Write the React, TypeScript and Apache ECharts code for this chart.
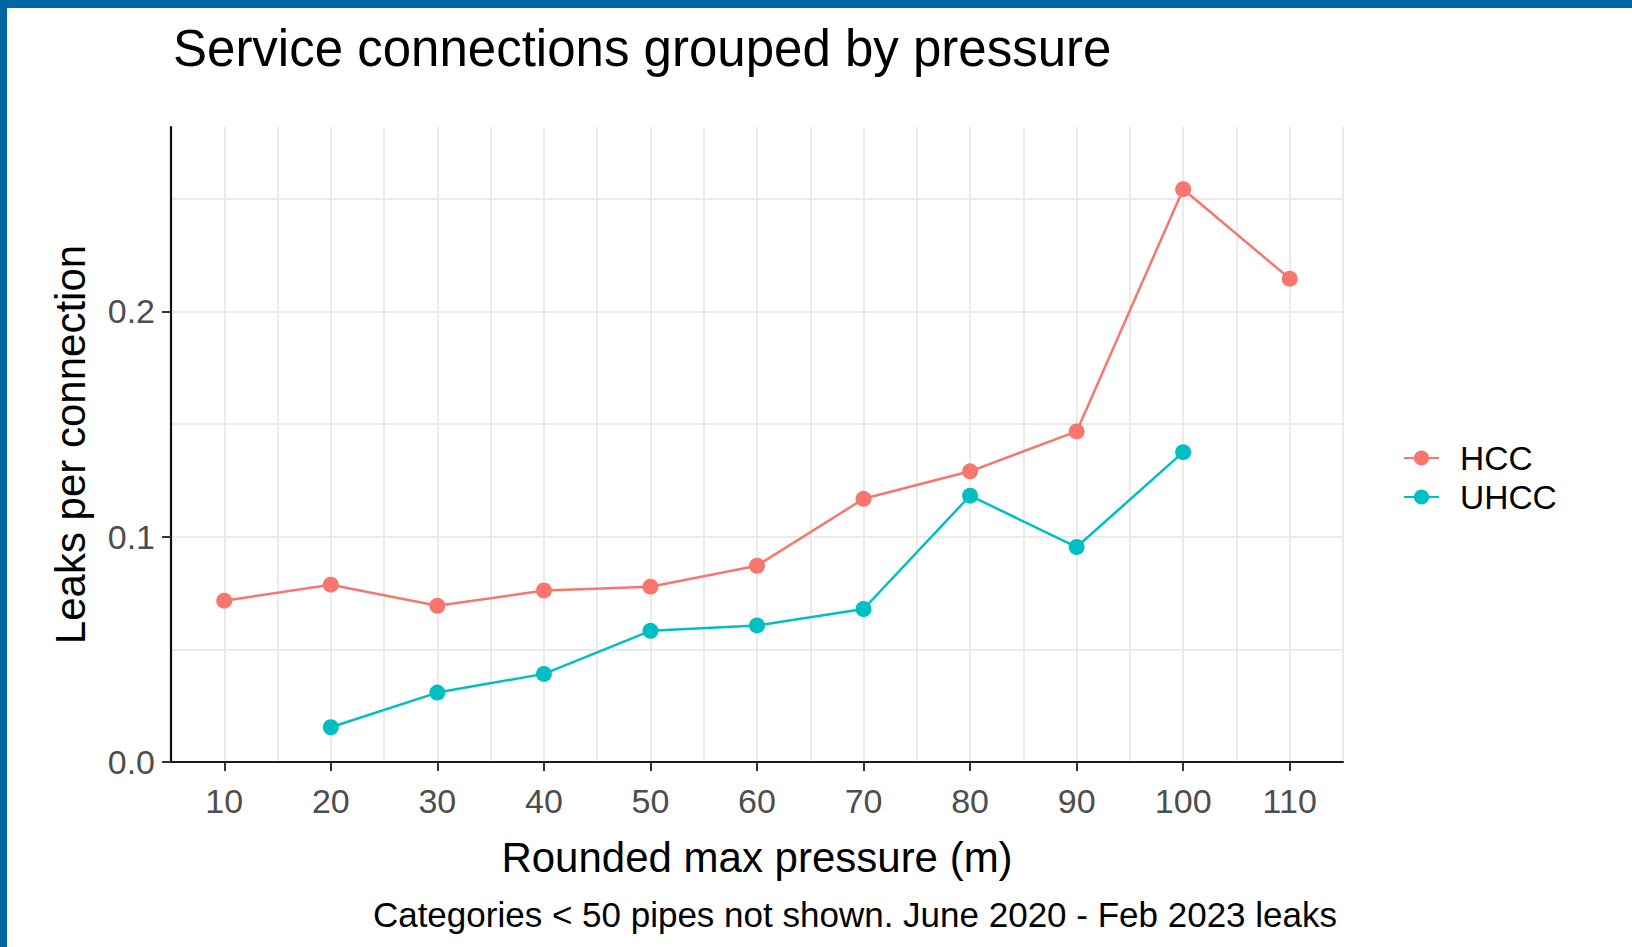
import React, { useEffect, useRef } from "react";
import * as echarts from "echarts";

const pressure = [10, 20, 30, 40, 50, 60, 70, 80, 90, 100, 110];
const hcc = [0.0716, 0.0787, 0.0693, 0.0761, 0.0778, 0.0871, 0.1168, 0.129, 0.1467, 0.2542, 0.2145];
const uhccPressure = [20, 30, 40, 50, 60, 70, 80, 90, 100];
const uhcc = [0.0154, 0.0308, 0.0391, 0.0582, 0.0606, 0.0679, 0.1182, 0.0954, 0.1375];
const xTicks = [10, 20, 30, 40, 50, 60, 70, 80, 90, 100, 110];
const yTicks = [0, 0.1, 0.2];

const titleText = "Service connections grouped by pressure";
const xName = "Rounded max pressure (m)";
const yName = "Leaks per connection";
const captionText = "Categories < 50 pipes not shown. June 2020 - Feb 2023 leaks";

const FONT = "'Liberation Sans', Arial, sans-serif";
const X_MIN = 5;
const X_MAX = 115;
const Y_MIN = 0;
const Y_MAX = 0.2818;

export default function App() {
  const ref = useRef<HTMLDivElement>(null);
  useEffect(() => {
    if (!ref.current) return;
    const chart = echarts.init(ref.current, null, { renderer: "svg" });
    const hidden = {
      axisLine: { show: false },
      axisTick: { show: false },
      axisLabel: { show: false },
    };
    chart.setOption({
      animation: false,
      backgroundColor: "#ffffff",
      textStyle: { fontFamily: FONT },
      title: {
        text: titleText,
        left: 168,
        top: 18,
        textStyle: { fontFamily: FONT, fontSize: 51, fontWeight: "normal", color: "#000000" },
      },
      legend: {
        orient: "vertical",
        left: 1403,
        top: 441,
        padding: 0,
        itemWidth: 35,
        itemHeight: 19,
        itemGap: 5,
        data: ["HCC", "UHCC"],
        textStyle: { fontFamily: FONT, fontSize: 33.5, color: "#000000", padding: [0, 0, 0, 16] },
      },
      grid: { left: 171, top: 127, right: 289, bottom: 185, containLabel: false },
      xAxis: [
        {
          type: "value",
          min: X_MIN,
          max: X_MAX,
          interval: 5,
          name: xName,
          nameLocation: "middle",
          nameGap: 74,
          nameTextStyle: { fontFamily: FONT, fontSize: 42, color: "#000000" },
          axisLine: { show: true, onZero: false, lineStyle: { color: "#1a1a1a", width: 2.2 } },
          axisTick: { show: true, length: 9, lineStyle: { color: "#333333", width: 2 }, customValues: xTicks },
          axisLabel: {
            fontFamily: FONT,
            fontSize: 34,
            color: "#4d4d4d",
            margin: 22,
            customValues: xTicks,
            formatter: (v: number) => String(v),
          },
          splitLine: { show: false },
          z: 5,
        },
        {
          type: "value",
          position: "top",
          min: X_MIN,
          max: X_MAX,
          interval: 5,
          ...hidden,
          splitLine: { show: true, showMinLine: false, lineStyle: { color: "#ebebeb", width: 2 } },
          z: 0,
        },
      ],
      yAxis: [
        {
          type: "value",
          min: Y_MIN,
          max: Y_MAX,
          interval: 0.05,
          name: yName,
          nameLocation: "middle",
          nameGap: 80,
          nameTextStyle: { fontFamily: FONT, fontSize: 42, color: "#000000" },
          axisLine: { show: true, onZero: false, lineStyle: { color: "#111111", width: 2.2 } },
          axisTick: { show: true, length: 9, lineStyle: { color: "#333333", width: 2 }, customValues: yTicks },
          axisLabel: {
            fontFamily: FONT,
            fontSize: 34,
            color: "#4d4d4d",
            margin: 16,
            customValues: yTicks,
            formatter: (v: number) => v.toFixed(1),
          },
          splitLine: { show: false },
          z: 5,
        },
        {
          type: "value",
          position: "right",
          min: Y_MIN,
          max: Y_MAX,
          interval: 0.05,
          ...hidden,
          splitLine: { show: true, showMinLine: false, showMaxLine: false, lineStyle: { color: "#ebebeb", width: 2 } },
          z: 0,
        },
      ],
      graphic: [
        { type: "rect", shape: { x: 0, y: 0, width: 1632, height: 8 }, style: { fill: "#0067a4" }, z: 100 },
        { type: "rect", shape: { x: 0, y: 0, width: 7, height: 947 }, style: { fill: "#0067a4" }, z: 100 },
        {
          type: "text",
          right: 1632 - 1337,
          top: 897,
          style: { text: captionText, font: `35px ${FONT}`, fill: "#000000" },
        },
      ],
      series: [
        {
          name: "HCC",
          type: "line",
          xAxisIndex: 0,
          yAxisIndex: 0,
          data: pressure.map((p, i) => [p, hcc[i]]),
          symbol: "circle",
          symbolSize: 16,
          lineStyle: { color: "#F8766D", width: 2.5 },
          itemStyle: { color: "#F8766D" },
          z: 10,
        },
        {
          name: "UHCC",
          type: "line",
          xAxisIndex: 0,
          yAxisIndex: 0,
          data: uhccPressure.map((p, i) => [p, uhcc[i]]),
          symbol: "circle",
          symbolSize: 16,
          lineStyle: { color: "#00BFC4", width: 2.5 },
          itemStyle: { color: "#00BFC4" },
          z: 10,
        },
      ],
    });
    return () => chart.dispose();
  }, []);
  return (
    <div
      ref={ref}
      style={{ position: "fixed", left: 0, top: 0, width: 1632, height: 947 }}
    />
  );
}
